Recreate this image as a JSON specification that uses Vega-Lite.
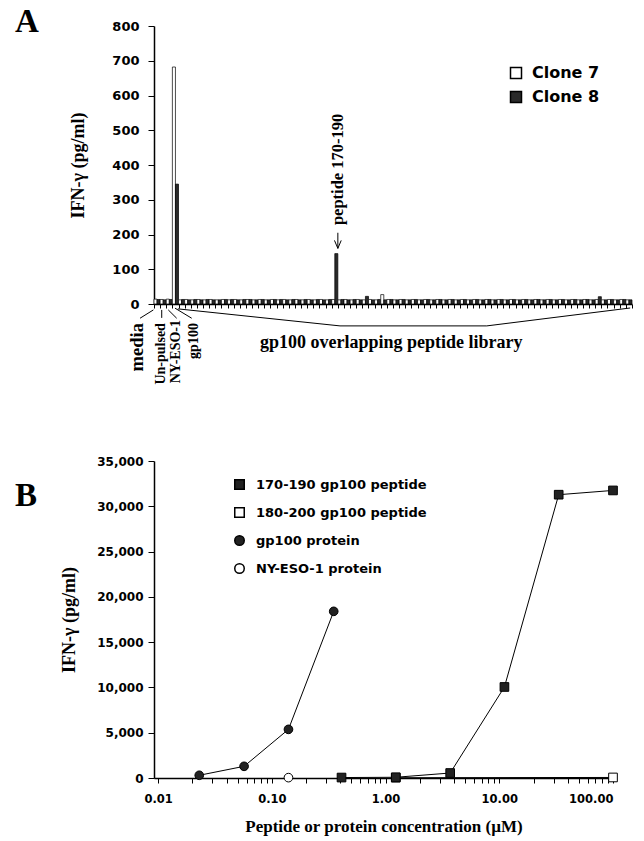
{
  "$schema": "https://vega.github.io/schema/vega-lite/v6.json",
  "autosize": {"type": "none"},
  "padding": {"left": 154, "top": 26, "right": 490, "bottom": 815},
  "background": "white",
  "bounds": "flush",
  "spacing": 157,
  "resolve": {"scale": {"fill": "independent", "shape": "independent"}, "legend": {"fill": "independent", "shape": "independent"}},
  "config": {
    "view": {"stroke": null},
    "axis": {"grid": false, "domainColor": "black", "tickColor": "black", "labelColor": "black", "titleColor": "black"},
    "legend": {"labelColor": "black"}
  },
  "vconcat": [
    {
      "width": 478,
      "height": 278,
      "title": {"text": "A", "anchor": "start", "frame": "group", "orient": "top", "offset": 0, "dx": -139, "dy": 45, "baseline": "alphabetic", "align": "left", "font": "Liberation Serif", "fontSize": 33, "fontWeight": "bold", "color": "black"},
      "resolve": {"scale": {"x": "independent"}, "axis": {"x": "independent", "y": "independent"}},
      "layer": [
        {
          "data": {"values": [
            {"i":0,"clone":"Clone 7","v":14},{"i":0,"clone":"Clone 8","v":13},
            {"i":1,"clone":"Clone 7","v":13},{"i":1,"clone":"Clone 8","v":12},
            {"i":2,"clone":"Clone 7","v":14},{"i":2,"clone":"Clone 8","v":13},
            {"i":3,"clone":"Clone 7","v":682},{"i":3,"clone":"Clone 8","v":345},
            {"i":4,"clone":"Clone 7","v":12},{"i":4,"clone":"Clone 8","v":13},
            {"i":5,"clone":"Clone 7","v":13},{"i":5,"clone":"Clone 8","v":12},
            {"i":6,"clone":"Clone 7","v":12},{"i":6,"clone":"Clone 8","v":13},
            {"i":7,"clone":"Clone 7","v":13},{"i":7,"clone":"Clone 8","v":12},
            {"i":8,"clone":"Clone 7","v":12},{"i":8,"clone":"Clone 8","v":13},
            {"i":9,"clone":"Clone 7","v":13},{"i":9,"clone":"Clone 8","v":12},
            {"i":10,"clone":"Clone 7","v":12},{"i":10,"clone":"Clone 8","v":12},
            {"i":11,"clone":"Clone 7","v":13},{"i":11,"clone":"Clone 8","v":13},
            {"i":12,"clone":"Clone 7","v":12},{"i":12,"clone":"Clone 8","v":13},
            {"i":13,"clone":"Clone 7","v":13},{"i":13,"clone":"Clone 8","v":12},
            {"i":14,"clone":"Clone 7","v":12},{"i":14,"clone":"Clone 8","v":13},
            {"i":15,"clone":"Clone 7","v":13},{"i":15,"clone":"Clone 8","v":13},
            {"i":16,"clone":"Clone 7","v":12},{"i":16,"clone":"Clone 8","v":12},
            {"i":17,"clone":"Clone 7","v":13},{"i":17,"clone":"Clone 8","v":13},
            {"i":18,"clone":"Clone 7","v":12},{"i":18,"clone":"Clone 8","v":12},
            {"i":19,"clone":"Clone 7","v":13},{"i":19,"clone":"Clone 8","v":13},
            {"i":20,"clone":"Clone 7","v":12},{"i":20,"clone":"Clone 8","v":13},
            {"i":21,"clone":"Clone 7","v":13},{"i":21,"clone":"Clone 8","v":12},
            {"i":22,"clone":"Clone 7","v":12},{"i":22,"clone":"Clone 8","v":13},
            {"i":23,"clone":"Clone 7","v":13},{"i":23,"clone":"Clone 8","v":12},
            {"i":24,"clone":"Clone 7","v":12},{"i":24,"clone":"Clone 8","v":13},
            {"i":25,"clone":"Clone 7","v":13},{"i":25,"clone":"Clone 8","v":12},
            {"i":26,"clone":"Clone 7","v":12},{"i":26,"clone":"Clone 8","v":13},
            {"i":27,"clone":"Clone 7","v":13},{"i":27,"clone":"Clone 8","v":12},
            {"i":28,"clone":"Clone 7","v":12},{"i":28,"clone":"Clone 8","v":13},
            {"i":29,"clone":"Clone 7","v":13},{"i":29,"clone":"Clone 8","v":145},
            {"i":30,"clone":"Clone 7","v":12},{"i":30,"clone":"Clone 8","v":13},
            {"i":31,"clone":"Clone 7","v":13},{"i":31,"clone":"Clone 8","v":12},
            {"i":32,"clone":"Clone 7","v":12},{"i":32,"clone":"Clone 8","v":13},
            {"i":33,"clone":"Clone 7","v":13},{"i":33,"clone":"Clone 8","v":12},
            {"i":34,"clone":"Clone 7","v":12},{"i":34,"clone":"Clone 8","v":22},
            {"i":35,"clone":"Clone 7","v":13},{"i":35,"clone":"Clone 8","v":12},
            {"i":36,"clone":"Clone 7","v":12},{"i":36,"clone":"Clone 8","v":13},
            {"i":37,"clone":"Clone 7","v":27},{"i":37,"clone":"Clone 8","v":12},
            {"i":38,"clone":"Clone 7","v":13},{"i":38,"clone":"Clone 8","v":13},
            {"i":39,"clone":"Clone 7","v":12},{"i":39,"clone":"Clone 8","v":12},
            {"i":40,"clone":"Clone 7","v":13},{"i":40,"clone":"Clone 8","v":13},
            {"i":41,"clone":"Clone 7","v":12},{"i":41,"clone":"Clone 8","v":12},
            {"i":42,"clone":"Clone 7","v":13},{"i":42,"clone":"Clone 8","v":13},
            {"i":43,"clone":"Clone 7","v":12},{"i":43,"clone":"Clone 8","v":12},
            {"i":44,"clone":"Clone 7","v":13},{"i":44,"clone":"Clone 8","v":13},
            {"i":45,"clone":"Clone 7","v":12},{"i":45,"clone":"Clone 8","v":12},
            {"i":46,"clone":"Clone 7","v":13},{"i":46,"clone":"Clone 8","v":13},
            {"i":47,"clone":"Clone 7","v":12},{"i":47,"clone":"Clone 8","v":12},
            {"i":48,"clone":"Clone 7","v":13},{"i":48,"clone":"Clone 8","v":13},
            {"i":49,"clone":"Clone 7","v":12},{"i":49,"clone":"Clone 8","v":12},
            {"i":50,"clone":"Clone 7","v":13},{"i":50,"clone":"Clone 8","v":13},
            {"i":51,"clone":"Clone 7","v":12},{"i":51,"clone":"Clone 8","v":12},
            {"i":52,"clone":"Clone 7","v":13},{"i":52,"clone":"Clone 8","v":13},
            {"i":53,"clone":"Clone 7","v":12},{"i":53,"clone":"Clone 8","v":12},
            {"i":54,"clone":"Clone 7","v":13},{"i":54,"clone":"Clone 8","v":13},
            {"i":55,"clone":"Clone 7","v":12},{"i":55,"clone":"Clone 8","v":12},
            {"i":56,"clone":"Clone 7","v":13},{"i":56,"clone":"Clone 8","v":13},
            {"i":57,"clone":"Clone 7","v":12},{"i":57,"clone":"Clone 8","v":12},
            {"i":58,"clone":"Clone 7","v":13},{"i":58,"clone":"Clone 8","v":13},
            {"i":59,"clone":"Clone 7","v":12},{"i":59,"clone":"Clone 8","v":12},
            {"i":60,"clone":"Clone 7","v":13},{"i":60,"clone":"Clone 8","v":13},
            {"i":61,"clone":"Clone 7","v":12},{"i":61,"clone":"Clone 8","v":12},
            {"i":62,"clone":"Clone 7","v":13},{"i":62,"clone":"Clone 8","v":13},
            {"i":63,"clone":"Clone 7","v":12},{"i":63,"clone":"Clone 8","v":12},
            {"i":64,"clone":"Clone 7","v":13},{"i":64,"clone":"Clone 8","v":13},
            {"i":65,"clone":"Clone 7","v":12},{"i":65,"clone":"Clone 8","v":12},
            {"i":66,"clone":"Clone 7","v":13},{"i":66,"clone":"Clone 8","v":13},
            {"i":67,"clone":"Clone 7","v":12},{"i":67,"clone":"Clone 8","v":12},
            {"i":68,"clone":"Clone 7","v":13},{"i":68,"clone":"Clone 8","v":13},
            {"i":69,"clone":"Clone 7","v":12},{"i":69,"clone":"Clone 8","v":12},
            {"i":70,"clone":"Clone 7","v":13},{"i":70,"clone":"Clone 8","v":13},
            {"i":71,"clone":"Clone 7","v":12},{"i":71,"clone":"Clone 8","v":12},
            {"i":72,"clone":"Clone 7","v":13},{"i":72,"clone":"Clone 8","v":21},
            {"i":73,"clone":"Clone 7","v":12},{"i":73,"clone":"Clone 8","v":12},
            {"i":74,"clone":"Clone 7","v":13},{"i":74,"clone":"Clone 8","v":13},
            {"i":75,"clone":"Clone 7","v":12},{"i":75,"clone":"Clone 8","v":12},
            {"i":76,"clone":"Clone 7","v":13},{"i":76,"clone":"Clone 8","v":13},
            {"i":77,"clone":"Clone 7","v":12},{"i":77,"clone":"Clone 8","v":12}
          ]},
          "mark": {"type": "bar", "stroke": "black", "strokeWidth": 0.7},
          "encoding": {
            "x": {"field": "i", "type": "ordinal", "scale": {"paddingInner": 0, "paddingOuter": 0},
                  "axis": {"labels": false, "title": null, "ticks": true, "tickBand": "extent", "tickSize": 4, "domainWidth": 1.5, "tickWidth": 1}},
            "xOffset": {"field": "clone", "sort": ["Clone 7", "Clone 8"]},
            "y": {"field": "v", "type": "quantitative", "scale": {"domain": [0, 800], "nice": false},
                  "axis": {"values": [0,100,200,300,400,500,600,700,800], "format": "d", "title": "IFN-γ (pg/ml)",
                           "titleFont": "Liberation Serif", "titleFontSize": 18, "titleFontWeight": "bold", "titlePadding": 24,
                           "labelFont": "DejaVu Sans", "labelFontWeight": "bold", "labelFontSize": 13, "labelPadding": 9,
                           "tickSize": 6, "domainWidth": 1.5}},
            "fill": {"field": "clone", "type": "nominal",
                     "scale": {"domain": ["Clone 7", "Clone 8"], "range": ["white", "#2a2a2a"]},
                     "legend": {"title": null, "orient": "none", "legendX": 354, "legendY": 39,
                                "symbolType": "square", "symbolSize": 121,
                                "labelFont": "DejaVu Sans", "labelFontWeight": "bold", "labelFontSize": 16, "labelOffset": 8,
                                "rowPadding": 6, "padding": 0,
                                "encode": {"symbols": {"update": {"stroke": {"value": "black"}, "strokeWidth": {"value": 1}}}}}}
          }
        },
        {
          "data": {"values": [
            {"p1": -0.1, "q1": -17, "p2": -2.28, "q2": -41},
            {"p1": 1.26, "q1": -17, "p2": 1.26, "q2": -40},
            {"p1": 2.33, "q1": -17, "p2": 3.7, "q2": -41},
            {"p1": 3.43, "q1": -12, "p2": 6.15, "q2": -41},
            {"p1": 3.9, "q1": -14, "p2": 30.35, "q2": -63},
            {"p1": 30.35, "q1": -63, "p2": 54.3, "q2": -63},
            {"p1": 54.3, "q1": -63, "p2": 77.7, "q2": -11.5},
            {"p1": 30.0, "q1": 205, "p2": 30.0, "q2": 160},
            {"p1": 29.45, "q1": 183, "p2": 30.0, "q2": 160},
            {"p1": 30.55, "q1": 183, "p2": 30.0, "q2": 160}
          ]},
          "mark": {"type": "rule", "color": "black", "strokeWidth": 1},
          "encoding": {
            "x": {"field": "p1", "type": "quantitative", "scale": {"domain": [0, 78], "nice": false, "zero": false}, "axis": null},
            "x2": {"field": "p2"},
            "y": {"field": "q1", "type": "quantitative", "scale": {"domain": [0, 800], "nice": false}, "axis": null},
            "y2": {"field": "q2"}
          }
        },
        {
          "data": {"values": [{"p": -2.7, "q": -55, "label": "media"}]},
          "mark": {"type": "text", "angle": 270, "align": "right", "baseline": "middle", "font": "Liberation Serif", "fontWeight": "bold", "fontSize": 18.5, "color": "black"},
          "encoding": {
            "x": {"field": "p", "type": "quantitative", "scale": {"domain": [0, 78], "nice": false, "zero": false}, "axis": null},
            "y": {"field": "q", "type": "quantitative", "scale": {"domain": [0, 800], "nice": false}, "axis": null},
            "text": {"field": "label"}
          }
        },
        {
          "data": {"values": [
            {"p": 1.22, "q": -55, "label": "Un-pulsed"},
            {"p": 3.67, "q": -46, "label": "NY-ESO-1"},
            {"p": 6.53, "q": -55, "label": "gp100"}
          ]},
          "mark": {"type": "text", "angle": 270, "align": "right", "baseline": "middle", "font": "Liberation Serif", "fontWeight": "bold", "fontSize": 14, "color": "black"},
          "encoding": {
            "x": {"field": "p", "type": "quantitative", "scale": {"domain": [0, 78], "nice": false, "zero": false}, "axis": null},
            "y": {"field": "q", "type": "quantitative", "scale": {"domain": [0, 800], "nice": false}, "axis": null},
            "text": {"field": "label"}
          }
        },
        {
          "data": {"values": [{"p": 30.0, "q": 227, "label": "peptide 170-190"}]},
          "mark": {"type": "text", "angle": 270, "align": "left", "baseline": "middle", "font": "Liberation Serif", "fontWeight": "bold", "fontSize": 16.5, "color": "black"},
          "encoding": {
            "x": {"field": "p", "type": "quantitative", "scale": {"domain": [0, 78], "nice": false, "zero": false}, "axis": null},
            "y": {"field": "q", "type": "quantitative", "scale": {"domain": [0, 800], "nice": false}, "axis": null},
            "text": {"field": "label"}
          }
        },
        {
          "data": {"values": [{"p": 38.7, "q": -112, "label": "gp100 overlapping peptide library"}]},
          "mark": {"type": "text", "align": "center", "baseline": "middle", "font": "Liberation Serif", "fontWeight": "bold", "fontSize": 18, "color": "black"},
          "encoding": {
            "x": {"field": "p", "type": "quantitative", "scale": {"domain": [0, 78], "nice": false, "zero": false}, "axis": null},
            "y": {"field": "q", "type": "quantitative", "scale": {"domain": [0, 800], "nice": false}, "axis": null},
            "text": {"field": "label"}
          }
        }
      ]
    },
    {
      "width": 459,
      "height": 317,
      "title": {"text": "B", "anchor": "start", "frame": "group", "orient": "top", "offset": 0, "dx": -139, "dy": 84, "baseline": "alphabetic", "align": "left", "font": "Liberation Serif", "fontSize": 33, "fontWeight": "bold", "color": "black"},
      "data": {"values": [
        {"series": "180-200 gp100 peptide", "conc": 1.23, "ifn": 30},
        {"series": "180-200 gp100 peptide", "conc": 100, "ifn": 60},
        {"series": "NY-ESO-1 protein", "conc": 0.14, "ifn": 40},
        {"series": "gp100 protein", "conc": 0.023, "ifn": 300},
        {"series": "gp100 protein", "conc": 0.057, "ifn": 1290},
        {"series": "gp100 protein", "conc": 0.14, "ifn": 5370},
        {"series": "gp100 protein", "conc": 0.35, "ifn": 18400},
        {"series": "170-190 gp100 peptide", "conc": 0.41, "ifn": 50},
        {"series": "170-190 gp100 peptide", "conc": 1.23, "ifn": 80},
        {"series": "170-190 gp100 peptide", "conc": 3.7, "ifn": 550},
        {"series": "170-190 gp100 peptide", "conc": 11.1, "ifn": 10050},
        {"series": "170-190 gp100 peptide", "conc": 33.3, "ifn": 31280},
        {"series": "170-190 gp100 peptide", "conc": 100, "ifn": 31750}
      ]},
      "encoding": {
        "x": {"field": "conc", "type": "quantitative",
              "scale": {"type": "log", "domain": [0.0092, 100], "nice": false},
              "axis": {"title": "Peptide or protein concentration (µM)", "titleFont": "Liberation Serif", "titleFontSize": 17, "titleFontWeight": "bold", "titlePadding": 14,
                       "values": [0.01,0.02,0.03,0.04,0.05,0.06,0.07,0.08,0.09,0.1,0.2,0.3,0.4,0.5,0.6,0.7,0.8,0.9,1,2,3,4,5,6,7,8,9,10,20,30,40,50,60,70,80,90,100],
                       "labelExpr": "indexof([0.01, 0.1, 1, 10, 100], datum.value) >= 0 ? format(datum.value, '.2f') : ''",
                       "labelOverlap": false, "labelFont": "DejaVu Sans", "labelFontWeight": "bold", "labelFontSize": 11.5, "labelPadding": 10,
                       "tickSize": 5, "domainWidth": 1.5}},
        "y": {"field": "ifn", "type": "quantitative",
              "scale": {"domain": [0, 35000], "nice": false},
              "axis": {"title": "IFN-γ (pg/ml)", "titleFont": "Liberation Serif", "titleFontSize": 18, "titleFontWeight": "bold", "titlePadding": 18,
                       "values": [0,5000,10000,15000,20000,25000,30000,35000], "labelExpr": "format(datum.value, ',.0f')",
                       "labelFont": "DejaVu Sans", "labelFontWeight": "bold", "labelFontSize": 12, "labelPadding": 5,
                       "tickSize": 6, "domainWidth": 1.5}}
      },
      "layer": [
        {
          "mark": {"type": "line", "color": "black", "strokeWidth": 1},
          "encoding": {"detail": {"field": "series"}}
        },
        {
          "mark": {"type": "point", "filled": true, "stroke": "black", "strokeWidth": 1, "opacity": 1, "size": 75},
          "encoding": {
            "shape": {"field": "series", "type": "nominal",
                      "scale": {"domain": ["170-190 gp100 peptide", "180-200 gp100 peptide", "gp100 protein", "NY-ESO-1 protein"], "range": ["square", "square", "circle", "circle"]},
                      "legend": {"title": null, "orient": "none", "legendX": 79, "legendY": 17,
                                 "symbolSize": 90, "labelLimit": 400,
                                 "labelFont": "DejaVu Sans", "labelFontWeight": "bold", "labelFontSize": 13, "labelOffset": 10,
                                 "rowPadding": 11, "padding": 0,
                                 "encode": {"symbols": {"update": {"stroke": {"value": "black"}, "strokeWidth": {"value": 1}, "opacity": {"value": 1}}}}}},
            "fill": {"field": "series", "type": "nominal",
                     "scale": {"domain": ["170-190 gp100 peptide", "180-200 gp100 peptide", "gp100 protein", "NY-ESO-1 protein"], "range": ["#222222", "white", "#222222", "white"]},
                     "legend": {"title": null, "orient": "none", "legendX": 79, "legendY": 17,
                                "symbolSize": 90, "labelLimit": 400,
                                "labelFont": "DejaVu Sans", "labelFontWeight": "bold", "labelFontSize": 13, "labelOffset": 10,
                                "rowPadding": 11, "padding": 0,
                                "encode": {"symbols": {"update": {"stroke": {"value": "black"}, "strokeWidth": {"value": 1}, "opacity": {"value": 1}}}}}}
          }
        }
      ]
    }
  ]
}
